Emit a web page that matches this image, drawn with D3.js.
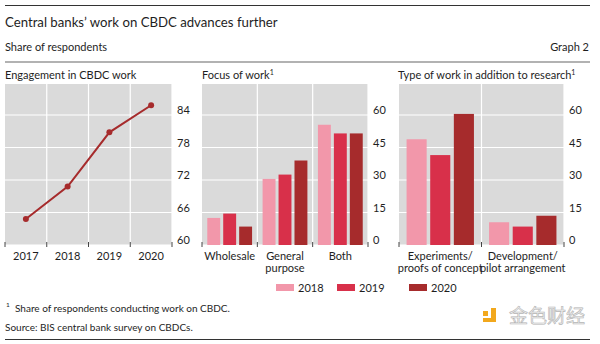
<!DOCTYPE html>
<html>
  <head>
    <meta charset="utf-8">
    <script src="https://cdn.jsdelivr.net/npm/d3@7/dist/d3.min.js"></script>
    <style type="text/css">
      body { margin: 0; background: #fff; }
      text { font-family: Lato, "Noto Sans", sans-serif; fill: #1e1e1e; }
      .tick-lbl { font-size: 11px; }
    </style>
  </head>
  <body>
    <div class="plot_canvas"></div>
    <script>

    // data
    var years = ["2017", "2018", "2019", "2020"];
    var engagement = [64.8, 70.8, 80.8, 85.8];

    var series = ["2018", "2019", "2020"];
    var colors = ["#f297aa", "#d8304a", "#a62b2c"];

    var focusCats = ["Wholesale", "General purpose", "Both"];
    var focusLabels = [["Wholesale"], ["General", "purpose"], ["Both"]];
    var focus2018 = [12.5, 30.5, 55.5];
    var focus2019 = [14.5, 32.5, 51.5];
    var focus2020 = [8.5, 39, 51.5];

    var typeCats = ["Experiments", "Development"];
    var typeLabels = [["Experiments/", "proofs of concept"], ["Development/", "pilot arrangement"]];
    var type2018 = [48.8, 10.5];
    var type2019 = [41.5, 8.5];
    var type2020 = [60.5, 13.5];

    var lineTicks = [60, 66, 72, 78, 84];
    var barTicks = [0, 15, 30, 45, 60];

    var W = 600, H = 344;
    var plotTop = 84, plotBottom = 245;

    var svg = d3.select(".plot_canvas")
      .append("svg")
      .attr("width", W)
      .attr("height", H);

    // header
    svg.append("line").attr("x1", 5).attr("x2", 590).attr("y1", 5.5).attr("y2", 5.5)
      .attr("stroke", "#333").attr("stroke-width", 1);
    svg.append("text").attr("x", 5).attr("y", 27).attr("font-size", 13.2)
      .text("Central banks\u2019 work on CBDC advances further");
    svg.append("text").attr("x", 5).attr("y", 51).attr("font-size", 11)
      .text("Share of respondents");
    svg.append("text").attr("x", 589).attr("y", 51).attr("font-size", 11)
      .attr("text-anchor", "end").text("Graph 2");
    svg.append("line").attr("x1", 5).attr("x2", 590).attr("y1", 62).attr("y2", 62)
      .attr("stroke", "#999").attr("stroke-width", 1.5);

    function panelTitle(x, txt, sup) {
      var t = svg.append("text").attr("x", x).attr("y", 79).attr("font-size", 11).text(txt);
      if (sup) t.append("tspan").attr("font-size", 7).attr("dy", -4).text(sup);
    }
    panelTitle(5, "Engagement in CBDC work");
    panelTitle(202, "Focus of work", "1");
    panelTitle(398, "Type of work in addition to research", "1");

    // generic panel frame
    function frame(x0, x1, yScale, ticks, bounds) {
      var g = svg.append("g");
      g.append("rect").attr("x", x0).attr("y", plotTop)
        .attr("width", x1 - x0).attr("height", plotBottom - plotTop)
        .attr("fill", "#dadada");
      g.selectAll(".hg").data(ticks).enter().append("line")
        .attr("x1", x0).attr("x2", x1)
        .attr("y1", function(d) { return yScale(d); })
        .attr("y2", function(d) { return yScale(d); })
        .attr("stroke", "#fff").attr("stroke-width", 1.2);
      g.selectAll(".vg").data(bounds.slice(1)).enter().append("line")
        .attr("x1", function(d) { return d; }).attr("x2", function(d) { return d; })
        .attr("y1", plotTop).attr("y2", plotBottom)
        .attr("stroke", "#fff").attr("stroke-width", 1.2);
      g.selectAll(".yl").data(ticks).enter().append("text")
        .attr("class", "tick-lbl")
        .attr("x", x1 + 5)
        .attr("y", function(d) { return yScale(d) - 1; })
        .text(function(d) { return d; });
      return g;
    }

    function ticksAt(bounds) {
      svg.append("g").selectAll("line").data(bounds).enter().append("line")
        .attr("x1", function(d) { return d; }).attr("x2", function(d) { return d; })
        .attr("y1", plotBottom - 3).attr("y2", plotBottom + 2)
        .attr("stroke", "#444").attr("stroke-width", 1);
    }

    function bandBounds(x) {
      var b = x.domain().map(function(d) { return x(d); });
      b.push(x.range()[1]);
      return b;
    }

    // panel 1: line
    var x1 = d3.scaleBand().domain(years).range([5, 172]);
    var y1 = d3.scaleLinear().domain([60, 84]).range([plotBottom, 115]);
    var b1 = bandBounds(x1);
    frame(5, 172, y1, lineTicks, b1);

    var line = d3.line()
      .x(function(d, i) { return x1(years[i]) + x1.bandwidth() / 2; })
      .y(function(d) { return y1(d); });
    svg.append("path").attr("d", line(engagement))
      .attr("fill", "none").attr("stroke", "#a62b2c").attr("stroke-width", 2);
    svg.append("g").selectAll("circle").data(engagement).enter().append("circle")
      .attr("cx", function(d, i) { return x1(years[i]) + x1.bandwidth() / 2; })
      .attr("cy", function(d) { return y1(d); })
      .attr("r", 3).attr("fill", "#a62b2c");
    ticksAt(b1);
    svg.append("g").selectAll("text").data(years).enter().append("text")
      .attr("class", "tick-lbl").attr("text-anchor", "middle")
      .attr("x", function(d) { return x1(d) + x1.bandwidth() / 2; })
      .attr("y", 260).text(function(d) { return d; });

    // bar panels
    function barPanel(cats, labels, vals, xa, xb, pIn, pOut) {
      var x = d3.scaleBand().domain(cats).range([xa, xb]);
      var xs = d3.scaleBand().domain(series).range([0, x.bandwidth()])
        .paddingInner(pIn).paddingOuter(pOut);
      var y = d3.scaleLinear().domain([0, 60]).range([plotBottom, 115]);
      var b = bandBounds(x);
      frame(xa, xb, y, barTicks, b);
      series.forEach(function(s, si) {
        svg.append("g").selectAll("rect").data(vals[si]).enter().append("rect")
          .attr("x", function(d, i) { return x(cats[i]) + xs(s); })
          .attr("width", xs.bandwidth())
          .attr("y", function(d) { return y(d); })
          .attr("height", function(d) { return plotBottom - y(d); })
          .attr("fill", colors[si]);
      });
      ticksAt(b);
      var lab = svg.append("g").selectAll("text").data(labels).enter().append("text")
        .attr("class", "tick-lbl").attr("text-anchor", "middle")
        .attr("x", function(d, i) { return x(cats[i]) + x.bandwidth() / 2; })
        .attr("y", 260);
      lab.selectAll("tspan").data(function(d) { return d; }).enter().append("tspan")
        .attr("x", function() { return d3.select(this.parentNode).attr("x"); })
        .attr("dy", function(d, i) { return i ? 11.5 : 0; })
        .text(function(d) { return d; });
    }

    barPanel(focusCats, focusLabels, [focus2018, focus2019, focus2020], 202, 368, 0.19, 0.33);
    barPanel(typeCats, typeLabels, [type2018, type2019, type2020], 399, 564, 0.15, 0.32);

    // legend
    var legX = [276, 337, 409];
    var leg = svg.append("g").selectAll("g").data(series).enter().append("g")
      .attr("transform", function(d, i) { return "translate(" + legX[i] + ",284)"; });
    leg.append("rect").attr("width", 18).attr("height", 7)
      .attr("fill", function(d, i) { return colors[i]; });
    leg.append("text").attr("class", "tick-lbl").attr("x", 22).attr("y", 8)
      .text(function(d) { return d; });

    // notes
    svg.append("text").attr("x", 6).attr("y", 307).attr("font-size", 6.5).text("1");
    svg.append("text").attr("x", 15).attr("y", 312).attr("font-size", 10)
      .text("Share of respondents conducting work on CBDC.");
    svg.append("text").attr("x", 5).attr("y", 331).attr("font-size", 10)
      .text("Source: BIS central bank survey on CBDCs.");
    svg.append("line").attr("x1", 5).attr("x2", 590).attr("y1", 339.5).attr("y2", 339.5)
      .attr("stroke", "#333").attr("stroke-width", 1);

    // watermark
    var wm = svg.append("g").attr("transform", "translate(483,308)");
    wm.append("rect").attr("x", 0).attr("y", 3).attr("width", 5).attr("height", 5).attr("fill", "#f2a81d");
    wm.append("path").attr("d", "M8,0 H13 V14 H0 V10 H8 Z").attr("fill", "#f2a81d");
    svg.append("text").attr("x", 509).attr("y", 323)
      .style("font-family", "'Noto Sans CJK SC'").attr("font-size", 19)
      .style("fill", "#eeeeee").attr("stroke", "#b5b5b5").attr("stroke-width", 0.6)
      .text("金色财经");

    </script>
  </body>
</html>
